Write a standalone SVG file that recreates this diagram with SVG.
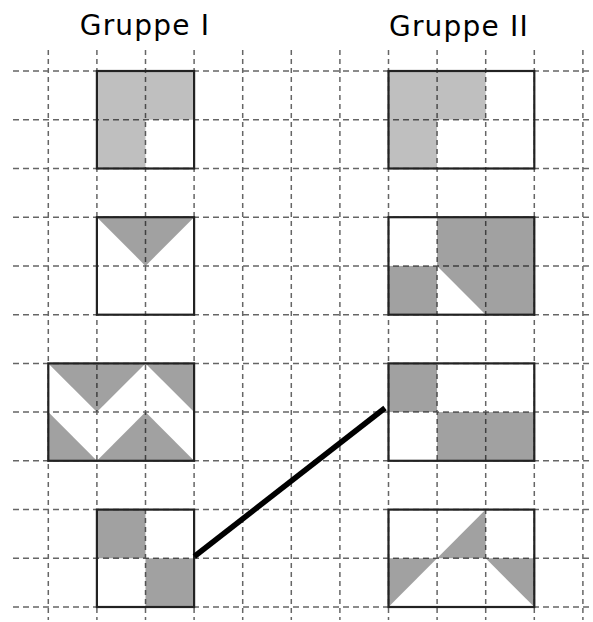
<svg xmlns="http://www.w3.org/2000/svg" width="593" height="622" viewBox="0 0 593 622">
<style>
.t{font-family:"DejaVu Sans","Liberation Sans",sans-serif;font-size:28px;fill:#000;text-anchor:middle;letter-spacing:1.2px}
.gv{stroke:#666;stroke-width:1.5;stroke-dasharray:5 4}
.gh{stroke:#666;stroke-width:1.5;stroke-dasharray:6 4}
.l{fill:#000;fill-opacity:0.25}
.d{fill:#000;fill-opacity:0.37}
.b{fill:none;stroke:#222;stroke-width:2.2}
</style>
<rect width="593" height="622" fill="#fff"/>
<g id="grid">
<line class="gv" x1="48.3" y1="50" x2="48.3" y2="620"/>
<line class="gv" x1="96.9" y1="50" x2="96.9" y2="620"/>
<line class="gv" x1="145.5" y1="50" x2="145.5" y2="620"/>
<line class="gv" x1="194.1" y1="50" x2="194.1" y2="620"/>
<line class="gv" x1="242.7" y1="50" x2="242.7" y2="620"/>
<line class="gv" x1="291.3" y1="50" x2="291.3" y2="620"/>
<line class="gv" x1="339.9" y1="50" x2="339.9" y2="620"/>
<line class="gv" x1="388.5" y1="50" x2="388.5" y2="620"/>
<line class="gv" x1="437.1" y1="50" x2="437.1" y2="620"/>
<line class="gv" x1="485.7" y1="50" x2="485.7" y2="620"/>
<line class="gv" x1="534.3" y1="50" x2="534.3" y2="620"/>
<line class="gv" x1="582.9" y1="50" x2="582.9" y2="620"/>
<line class="gh" x1="13" y1="71" x2="593" y2="71"/>
<line class="gh" x1="13" y1="119.7" x2="593" y2="119.7"/>
<line class="gh" x1="13" y1="168.5" x2="593" y2="168.5"/>
<line class="gh" x1="13" y1="217.2" x2="593" y2="217.2"/>
<line class="gh" x1="13" y1="265.9" x2="593" y2="265.9"/>
<line class="gh" x1="13" y1="314.7" x2="593" y2="314.7"/>
<line class="gh" x1="13" y1="363.4" x2="593" y2="363.4"/>
<line class="gh" x1="13" y1="412.1" x2="593" y2="412.1"/>
<line class="gh" x1="13" y1="460.8" x2="593" y2="460.8"/>
<line class="gh" x1="13" y1="509.6" x2="593" y2="509.6"/>
<line class="gh" x1="13" y1="558.3" x2="593" y2="558.3"/>
<line class="gh" x1="13" y1="607" x2="593" y2="607"/>
</g>
<g id="titles">
<text class="t" x="145" y="35">Gruppe I</text>
<text class="t" x="459" y="36">Gruppe II</text>
</g>
<g id="g1r1">
<polygon class="l" points="96.9,71 194.1,71 194.1,119.7 145.5,119.7 145.5,168.5 96.9,168.5"/>
<rect class="b" x="96.9" y="71" width="97.2" height="97.5"/>
</g>
<g id="g2r1">
<polygon class="l" points="388.5,71 485.7,71 485.7,119.7 437.1,119.7 437.1,168.5 388.5,168.5"/>
<rect class="b" x="388.5" y="71" width="145.8" height="97.5"/>
</g>
<g id="g1r2">
<polygon class="d" points="96.9,217.2 194.1,217.2 145.5,265.9"/>
<rect class="b" x="96.9" y="217.2" width="97.2" height="97.5"/>
</g>
<g id="g2r2">
<polygon class="d" points="437.1,217.2 534.3,217.2 534.3,314.7 485.7,314.7 437.1,265.9"/>
<rect class="d" x="388.5" y="265.9" width="48.6" height="48.8"/>
<rect class="b" x="388.5" y="217.2" width="145.8" height="97.5"/>
</g>
<g id="g1r3">
<polygon class="d" points="48.3,363.4 145.5,363.4 96.9,412.1"/>
<polygon class="d" points="145.5,363.4 194.1,363.4 194.1,412.1"/>
<polygon class="d" points="48.3,412.1 96.9,460.8 48.3,460.8"/>
<polygon class="d" points="96.9,460.8 145.5,412.1 194.1,460.8"/>
<rect class="b" x="48.3" y="363.4" width="145.8" height="97.4"/>
</g>
<g id="g2r3">
<rect class="d" x="388.5" y="363.4" width="48.6" height="48.7"/>
<rect class="d" x="437.1" y="412.1" width="97.2" height="48.7"/>
<rect class="b" x="388.5" y="363.4" width="145.8" height="97.4"/>
</g>
<g id="g1r4">
<rect class="d" x="96.9" y="509.6" width="48.6" height="48.7"/>
<rect class="d" x="145.5" y="558.3" width="48.6" height="48.7"/>
<rect class="b" x="96.9" y="509.6" width="97.2" height="97.4"/>
</g>
<g id="g2r4">
<polygon class="d" points="388.5,558.3 437.1,558.3 388.5,607"/>
<polygon class="d" points="437.1,558.3 485.7,509.6 485.7,558.3"/>
<polygon class="d" points="485.7,558.3 534.3,558.3 534.3,607"/>
<rect class="b" x="388.5" y="509.6" width="145.8" height="97.4"/>
</g>
<g id="connectors">
<line x1="194.3" y1="556.5" x2="385" y2="408" stroke="#000" stroke-width="5.5"/>
</g>
</svg>
